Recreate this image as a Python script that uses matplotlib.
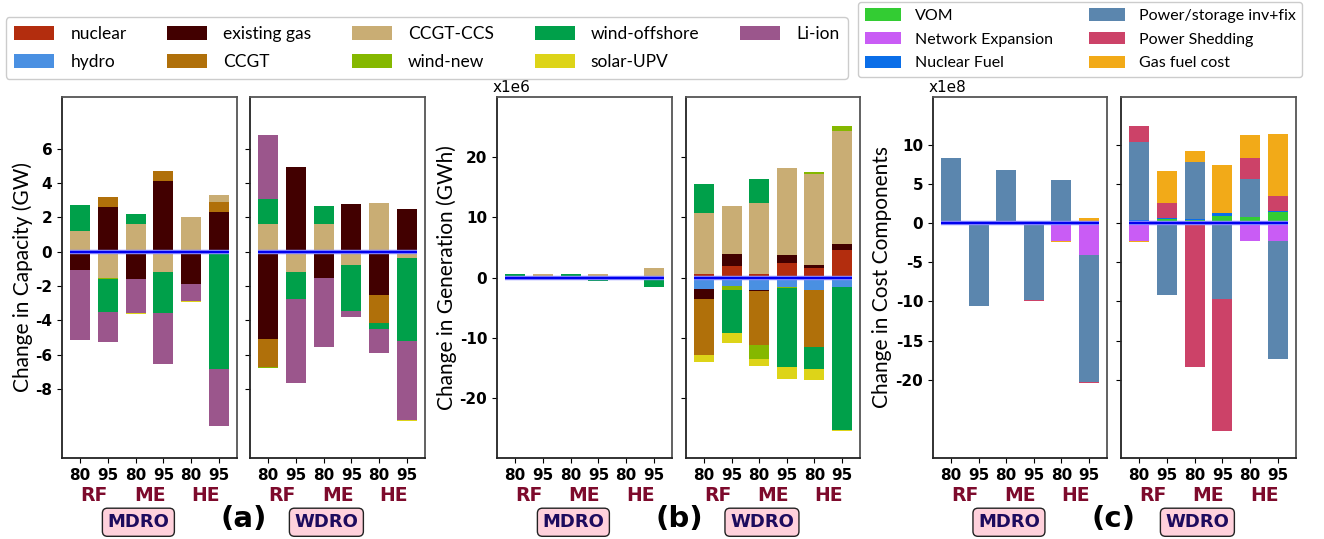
import numpy as np
import matplotlib
matplotlib.use("Agg")
import matplotlib.pyplot as plt
from matplotlib.patches import Patch

# ---------------- data ----------------
bar_labels = ["80", "95", "80", "95", "80", "95"]
group_labels = ["RF", "ME", "HE"]
method_labels = ["MDRO", "WDRO"]

tech_names = ["nuclear", "hydro", "existing gas", "CCGT", "CCGT-CCS",
              "wind-new", "wind-offshore", "solar-UPV", "Li-ion"]
tech_colors = ["#b32d0e", "#4a90e2", "#420000", "#b0700a", "#c9ad74",
               "#85b800", "#00a04a", "#ddd418", "#9b568c"]

# (a) change in capacity (GW): first 6 = MDRO, last 6 = WDRO
cap_nuclear = [0, 0, 0, 0, 0, 0, 0, 0, 0, 0, 0, 0]
cap_hydro = [0, 0, 0, 0, 0, 0, 0, 0, 0, 0, 0, 0]
cap_existing_gas = [-1.09, 2.58, -1.61, 4.10, -1.90, 2.29, -5.05, 4.91, -1.50, 2.76, -2.49, 2.47]
cap_ccgt = [0, 0.59, 0, 0.58, 0, 0.58, -1.67, 0, 0, 0, -1.68, 0]
cap_ccgt_ccs = [1.18, -1.55, 1.59, -1.20, 2.00, 0.41, 1.59, -1.20, 1.59, -0.80, 2.82, -0.39]
cap_wind_new = [0, -0.04, 0, 0, 0, 0, -0.04, 0, 0, 0, 0, 0]
cap_wind_offshore = [1.52, -1.94, 0.58, -2.37, 0, -6.80, 1.46, -1.54, 1.05, -2.66, -0.33, -4.83]
cap_solar_upv = [-0.05, 0, -0.05, 0, -0.05, 0, 0, 0, 0, 0, 0, -0.05]
cap_li_ion = [-4.02, -1.73, -1.98, -2.99, -0.97, -3.36, 3.73, -4.87, -4.05, -0.31, -1.40, -4.56]

# (b) change in generation (x1e6 GWh)
gen_nuclear = [0, 0, 0, 0, 0, 0, 0.50, 1.88, 0.55, 2.38, 1.55, 4.53]
gen_hydro = [0.15, 0.10, 0.15, 0.10, 0.05, 0.20, -1.93, -1.44, -2.04, -1.55, -2.10, -1.60]
gen_existing_gas = [0, 0, 0, 0, 0, 0, -1.66, 1.99, -0.20, 1.32, 0.50, 1.00]
gen_ccgt = [-0.44, 0, -0.44, 0, -0.10, 0, -9.28, 0, -8.95, 0, -9.40, 0]
gen_ccgt_ccs = [0.10, 0.45, 0.05, 0.45, 0.20, 1.30, 10.30, 7.95, 11.77, 14.42, 15.10, 18.90]
gen_wind_new = [0, 0, 0, 0, 0, 0, 0, -0.66, -2.32, -0.20, 0.33, 0.83]
gen_wind_offshore = [0.25, -0.45, 0.30, -0.65, -0.35, -1.60, 4.80, -7.13, 3.98, -13.10, -3.70, -23.80]
gen_solar_upv = [0, 0, 0, 0, 0.08, 0.10, -1.16, -1.65, -1.27, -1.99, -1.83, -0.10]
gen_li_ion = [0, 0, 0, 0, 0, 0, 0, 0, 0, 0, 0, 0]

cost_names = ["VOM", "Network Expansion", "Nuclear Fuel",
              "Power/storage inv+fix", "Power Shedding", "Gas fuel cost"]
cost_colors = ["#33cc33", "#c95cf5", "#0a6ee8", "#5b86ae", "#cc4268", "#f2aa18"]

# (c) change in cost components (x1e8)
cost_vom = [0, 0, 0, 0, 0, 0, 0.15, 0.55, 0.40, 0.94, 0.81, 1.36]
cost_network = [0, 0, 0, 0, -2.30, -4.13, -2.30, 0, 0, 0, -2.26, -2.26]
cost_nuclear_fuel = [0, 0, 0, 0, 0, 0.30, 0.20, 0.15, 0.15, 0.29, 0, 0.21]
cost_power_storage = [8.34, -10.55, 6.72, -9.79, 5.53, -16.17, 10.00, -9.15, 7.28, -9.66, 4.85, -15.14]
cost_shedding = [0, -0.10, 0.12, -0.10, 0, -0.10, 2.05, 1.90, -18.34, -16.85, 2.68, 1.92]
cost_gas_fuel = [0, 0.15, 0, 0.15, -0.08, 0.38, -0.10, 4.08, 1.40, 6.22, 2.94, 7.91]

# ---------------- figure ----------------
W, H = 1324, 539
fig = plt.figure(figsize=(W / 100, H / 100), dpi=100)

TXT_FONT = ["Lato", "DejaVu Sans"]
WIDTH = 0.72


def ax_at(x0, x1, y0=97, y1=458):
    return fig.add_axes([x0 / W, 1 - y1 / H, (x1 - x0) / W, (y1 - y0) / H])


def draw_stack(ax, series, colors, sl):
    x = np.arange(6)
    pos = np.zeros(6)
    neg = np.zeros(6)
    for vals, c in zip(series, colors):
        v = np.asarray(vals[sl], dtype=float)
        bottom = np.where(v >= 0, pos, neg)
        ax.bar(x, v, WIDTH, bottom=bottom, color=c, linewidth=0)
        pos += np.clip(v, 0, None)
        neg += np.clip(v, None, 0)
    ax.hlines(0, -WIDTH / 2, 5 + WIDTH / 2, color="#8c8cff", lw=3.2, zorder=5)
    ax.hlines(0, -WIDTH / 2, 5 + WIDTH / 2, color="#0000ee", lw=1.6, zorder=6)


def style_axes(ax, ylim, yticks, show_labels, method):
    ax.set_xlim(-0.65, 5.65)
    ax.set_ylim(*ylim)
    ax.set_yticks(yticks)
    ax.set_xticks(range(6))
    ax.set_xticklabels(bar_labels, fontsize=11, fontweight="bold")
    if show_labels:
        ax.set_yticklabels([str(t) for t in yticks], fontsize=11, fontweight="bold")
    else:
        ax.set_yticklabels([])
    for s in ax.spines.values():
        s.set_color("#555555")
        s.set_linewidth(1.3)
    ax.spines["left"].set_color("#222222")
    ax.spines["bottom"].set_color("#222222")
    tr = ax.get_xaxis_transform()
    for i, g in enumerate(group_labels):
        ax.text(2 * i + 0.5, -0.104, g, transform=tr, ha="center", va="center",
                fontsize=13.5, fontweight="bold", color="#7d0a2c")
    ax.text(2.1, -0.178, method, transform=tr, ha="center", va="center",
            fontsize=13, fontweight="bold", color="#1d0b5e",
            bbox=dict(boxstyle="round,pad=0.28", fc="#ffd1dc", ec="#222222", lw=1.0))


cap_series = [cap_nuclear, cap_hydro, cap_existing_gas, cap_ccgt, cap_ccgt_ccs,
              cap_wind_new, cap_wind_offshore, cap_li_ion, cap_solar_upv]
cap_colors = [tech_colors[i] for i in (0, 1, 2, 3, 4, 5, 6, 8, 7)]
gen_series = [gen_nuclear, gen_hydro, gen_existing_gas, gen_ccgt, gen_ccgt_ccs,
              gen_wind_new, gen_wind_offshore, gen_solar_upv, gen_li_ion]
cost_series = [cost_vom, cost_network, cost_nuclear_fuel, cost_power_storage,
               cost_shedding, cost_gas_fuel]

panels = [
    (cap_series, cap_colors, (-12, 9), [-8, -6, -4, -2, 0, 2, 4, 6], (62, 237), (250, 425),
     "Change in Capacity (GW)", "(a)", None, -0.166),
    (gen_series, tech_colors, (-30, 30), [-20, -10, 0, 10, 20], (497, 672), (686, 860),
     "Change in Generation (GWh)", "(b)", "x1e6", -0.23),
    (cost_series, cost_colors, (-30, 16.1), [-20, -15, -10, -5, 0, 5, 10], (933, 1107), (1121, 1296),
     "Change in Cost Components", "(c)", "x1e8", -0.236),
]

for series, colors, ylim, yticks, lpos, rpos, ylabel, tag, offset, labx in panels:
    axl = ax_at(*lpos)
    axr = ax_at(*rpos)
    draw_stack(axl, series, colors, slice(0, 6))
    draw_stack(axr, series, colors, slice(6, 12))
    style_axes(axl, ylim, yticks, True, "MDRO")
    style_axes(axr, ylim, yticks, False, "WDRO")
    axl.set_ylabel(ylabel, fontsize=15, family=TXT_FONT)
    axl.yaxis.set_label_coords(labx, 0.5)
    fig.text((lpos[1] + rpos[0]) / 2 / W, 1 - 519 / H, tag, ha="center", va="center",
             fontsize=21, fontweight="bold")
    if offset:
        fig.text((lpos[0] - 4) / W, 1 - 87 / H, offset, ha="left", va="center", fontsize=11)

# ---------------- legends ----------------
leg_tech = [Patch(facecolor=c, edgecolor="none") for c in tech_colors]
l1 = fig.legend(leg_tech, tech_names, ncol=5, loc="upper left",
                bbox_to_anchor=(5.7 / W, 1 - 17.3 / H), borderaxespad=0,
                prop={"family": TXT_FONT, "size": 12.5}, handlelength=2.3, handleheight=0.8,
                handletextpad=0.92, columnspacing=2.35, labelspacing=0.7, borderpad=0.5,
                frameon=True, fancybox=True, edgecolor="#cccccc", framealpha=1)

leg_cost = [Patch(facecolor=c, edgecolor="none") for c in cost_colors]
l2 = fig.legend(leg_cost, cost_names, ncol=2, loc="lower left",
                bbox_to_anchor=(858 / W, 1 - 77 / H), borderaxespad=0,
                prop={"family": TXT_FONT, "size": 11.5}, handlelength=2.25, handleheight=0.8,
                handletextpad=0.88, columnspacing=2.25, labelspacing=0.56, borderpad=0.42,
                frameon=True, fancybox=True, edgecolor="#cccccc", framealpha=1)

fig.savefig("out.png", dpi=100)
